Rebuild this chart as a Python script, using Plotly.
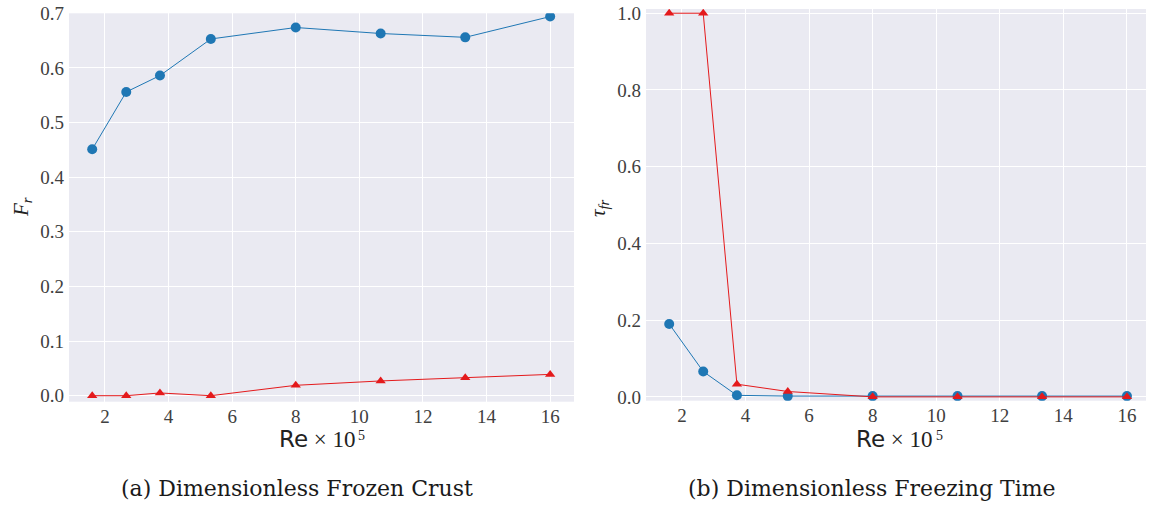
import plotly.graph_objects as go

re_vals = [1.6, 2.67, 3.73, 5.33, 8.0, 10.67, 13.33, 16.0]

# (a) Dimensionless frozen crust
fr_blue = [0.451, 0.556, 0.586, 0.653, 0.674, 0.663, 0.656, 0.694]
fr_red = [0.0, 0.0, 0.005, 0.0, 0.019, 0.027, 0.033, 0.039]

# (b) Dimensionless freezing time
tau_blue = [0.19, 0.066, 0.004, 0.002, 0.002, 0.002, 0.002, 0.002]
tau_red = [1.0, 1.0, 0.033, 0.014, 0.0, 0.0, 0.0, 0.0]

x_ticks = [2, 4, 6, 8, 10, 12, 14, 16]
fr_ticks = [0.0, 0.1, 0.2, 0.3, 0.4, 0.5, 0.6, 0.7]
tau_ticks = [0.0, 0.2, 0.4, 0.6, 0.8, 1.0]

BLUE = "#1f77b4"
RED = "#e41a1c"
BG = "#eaeaf2"
SERIF = "Liberation Serif, 'Liberation Serif', 'DejaVu Serif', serif"
DSERIF = "'DejaVu Serif', serif"
TICKC = "#404040"

W, H = 1150, 507

fig = go.Figure()

def add_pair(xa, ya, blue, red):
    fig.add_trace(go.Scatter(x=re_vals, y=blue, mode="lines+markers",
                             line=dict(color=BLUE, width=1),
                             marker=dict(symbol="circle", size=10, color=BLUE),
                             xaxis=xa, yaxis=ya, showlegend=False))
    fig.add_trace(go.Scatter(x=re_vals, y=red, mode="lines+markers",
                             line=dict(color=RED, width=1),
                             marker=dict(symbol="triangle-up", size=9, color=RED),
                             xaxis=xa, yaxis=ya, showlegend=False))

add_pair("x", "y", fr_blue, fr_red)
add_pair("x2", "y2", tau_blue, tau_red)

def px_x(p):
    return p / W

def px_y(p):
    return 1 - p / H

axis_common = dict(showgrid=True, gridcolor="white", gridwidth=1.3, zeroline=False,
                   showline=False, ticks="", automargin=False,
                   tickfont=dict(family=SERIF, size=19, color=TICKC))

fig.update_layout(
    width=W, height=H, autosize=False,
    margin=dict(l=0, r=0, t=0, b=0, pad=0, autoexpand=False),
    paper_bgcolor="white",
    plot_bgcolor=BG,
    font=dict(family=SERIF),
    xaxis=dict(domain=[px_x(69), px_x(574)], range=[0.87, 16.75], tickvals=x_ticks,
               anchor="y", ticklabelstandoff=1, **axis_common),
    yaxis=dict(domain=[px_y(401.7), px_y(13.3)], range=[-0.011, 0.7], tickvals=fr_ticks,
               tickformat=".1f", anchor="x", ticklabelstandoff=4, **axis_common),
    xaxis2=dict(domain=[px_x(646), px_x(1146)], range=[0.87, 16.6], tickvals=x_ticks,
                anchor="y2", ticklabelstandoff=1, **axis_common),
    yaxis2=dict(domain=[px_y(400.7), px_y(9)], range=[-0.01, 1.011], tickvals=tau_ticks,
                tickformat=".1f", anchor="x2", ticklabelstandoff=4, **axis_common),
)

xtitle = "<span style='font-family:DejaVu Sans'>Re</span> × 10"

annots = [
    dict(x=px_x(317), y=px_y(439), text=xtitle, font=dict(family=SERIF, size=23, color="#222")),
    dict(x=px_x(361), y=px_y(435), text="5", font=dict(family=SERIF, size=14, color="#222")),
    dict(x=px_x(895), y=px_y(439), text=xtitle, font=dict(family=SERIF, size=23, color="#222")),
    dict(x=px_x(939), y=px_y(435), text="5", font=dict(family=SERIF, size=14, color="#222")),
    dict(x=px_x(22), y=px_y(207), text="<i>F</i><sub><i>r</i></sub>", textangle=-90),
    dict(x=px_x(599), y=px_y(208), text="<i>τ</i><sub><i>fr</i></sub>", textangle=-90),
    dict(x=px_x(297), y=px_y(488), text="(a) Dimensionless Frozen Crust",
         font=dict(family=DSERIF, size=22, color="#1a1a1a")),
    dict(x=px_x(872), y=px_y(488), text="(b) Dimensionless Freezing Time",
         font=dict(family=DSERIF, size=22, color="#1a1a1a")),
]
for a in annots:
    base = dict(xref="paper", yref="paper", showarrow=False, xanchor="center", yanchor="middle",
                font=dict(family=SERIF, size=21, color="#222"))
    base.update(a)
    fig.add_annotation(**base)

fig.write_html("out.html", config=dict(displayModeBar=False),
               post_script="document.body.style.margin='0';")
